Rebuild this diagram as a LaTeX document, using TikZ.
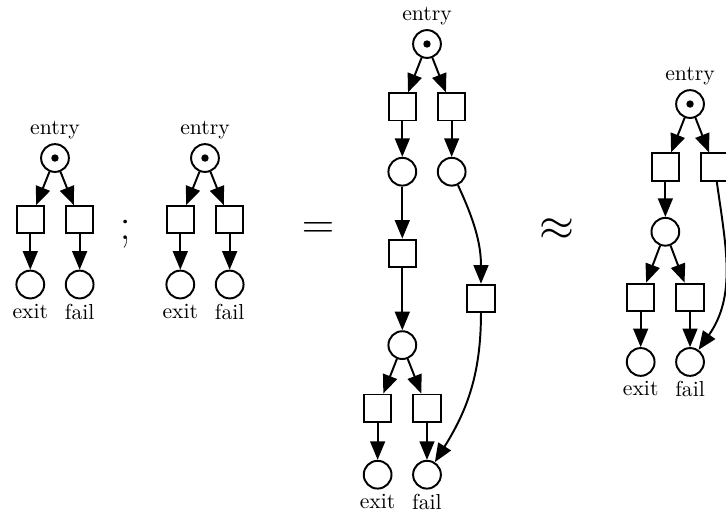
\documentclass[tikz,border=0pt]{standalone}
\usepackage{amsmath}
\usetikzlibrary{arrows.meta, positioning}

\tikzset{
	place/.style={circle, draw, line width=.9pt, minimum size=.45cm, inner sep=0pt},
	transition/.style={rectangle, draw, line width=.9pt, minimum size=.44cm, inner sep=0pt},
	token/.style={circle, fill, inner sep=0pt, minimum size=.12cm},
	arc/.style={line width=.9pt, -{Triangle[length=3mm, width=2.4mm]}},
	bigsym/.style={font=\huge},
	every label/.style={label distance=-1.5pt},
}

\begin{document}
\begin{tikzpicture}
		\useasboundingbox (0,0) rectangle (11.766,-8.347);
		% the two nets that are composed
		\foreach \n/\x in {a/0.891, b/3.322} {
			\begin{scope}[xshift=\x cm, yshift=-2.561cm]
				\node[place, label=above:entry] (\n0) at (0,0) {};
				\node[token] (\n0t) at (\n0) {};
				\node[transition] (\n1) at (-.4,-1) {};
				\node[transition] (\n2) at (.4,-1) {};
				\node[place, label=below:exit] (\n3) at (-.4,-2.05) {};
				\node[place, label=below:fail] (\n4) at (.4,-2.05) {};
				\draw[arc] (\n0) -- (\n1);
				\draw[arc] (\n0) -- (\n2);
				\draw[arc] (\n1) -- (\n3);
				\draw[arc] (\n2) -- (\n4);
			\end{scope}
		}
		\node[bigsym] (semi) at (2.03,-3.80) {$;$};
		\node[bigsym] (eq) at (5.154,-3.728) {$=$};
		\node[bigsym] (approx) at (9.02,-3.728) {$\approx$};
		% the composed net
		\begin{scope}[xshift=6.920cm, yshift=-0.713cm]
			\node[place, label=above:entry] (c0) at (0,0) {};
			\node[token] (c0t) at (c0) {};
			\node[transition] (c1) at (-.4,-1.02) {};
			\node[transition] (c2) at (.4,-1.02) {};
			\node[place] (c3) at (-.4,-2.07) {};
			\node[place] (c4) at (.4,-2.07) {};
			\node[transition] (c5) at (-.4,-3.39) {};
			\node[transition] (c6) at (.875,-4.12) {};
			\node[place] (c7) at (-.4,-4.88) {};
			\node[transition] (c8) at (-.8,-5.90) {};
			\node[transition] (c9) at (0,-5.90) {};
			\node[place, label=below:exit] (c10) at (-.8,-6.98) {};
			\node[place, label=below:fail] (c11) at (0,-6.98) {};
			\draw[arc] (c0) -- (c1);
			\draw[arc] (c0) -- (c2);
			\draw[arc] (c1) -- (c3);
			\draw[arc] (c2) -- (c4);
			\draw[arc] (c3) -- (c5);
			\draw[arc] (c4) to[out=-65, in=90] (c6);
			\draw[arc] (c5) -- (c7);
			\draw[arc] (c7) -- (c8);
			\draw[arc] (c7) -- (c9);
			\draw[arc] (c8) -- (c10);
			\draw[arc] (c9) -- (c11);
			\draw[arc] (c6) to[out=-90, in=58] (c11);
		\end{scope}
		% the simplified net
		\begin{scope}[xshift=11.183cm, yshift=-1.686cm]
			\node[place, label=above:entry] (d0) at (0,0) {};
			\node[token] (d0t) at (d0) {};
			\node[transition] (d1) at (-.4,-1.02) {};
			\node[transition] (d2) at (.4,-1.02) {};
			\node[place] (d3) at (-.4,-2.07) {};
			\node[transition] (d4) at (-.8,-3.13) {};
			\node[transition] (d5) at (0,-3.13) {};
			\node[place, label=below:exit] (d6) at (-.8,-4.18) {};
			\node[place, label=below:fail] (d7) at (0,-4.18) {};
			\draw[arc] (d0) -- (d1);
			\draw[arc] (d0) -- (d2);
			\draw[arc] (d1) -- (d3);
			\draw[arc] (d3) -- (d4);
			\draw[arc] (d3) -- (d5);
			\draw[arc] (d4) -- (d6);
			\draw[arc] (d5) -- (d7);
			\draw[arc] (d2) to[out=-82, in=55] (d7);
		\end{scope}
\end{tikzpicture}
\end{document}
